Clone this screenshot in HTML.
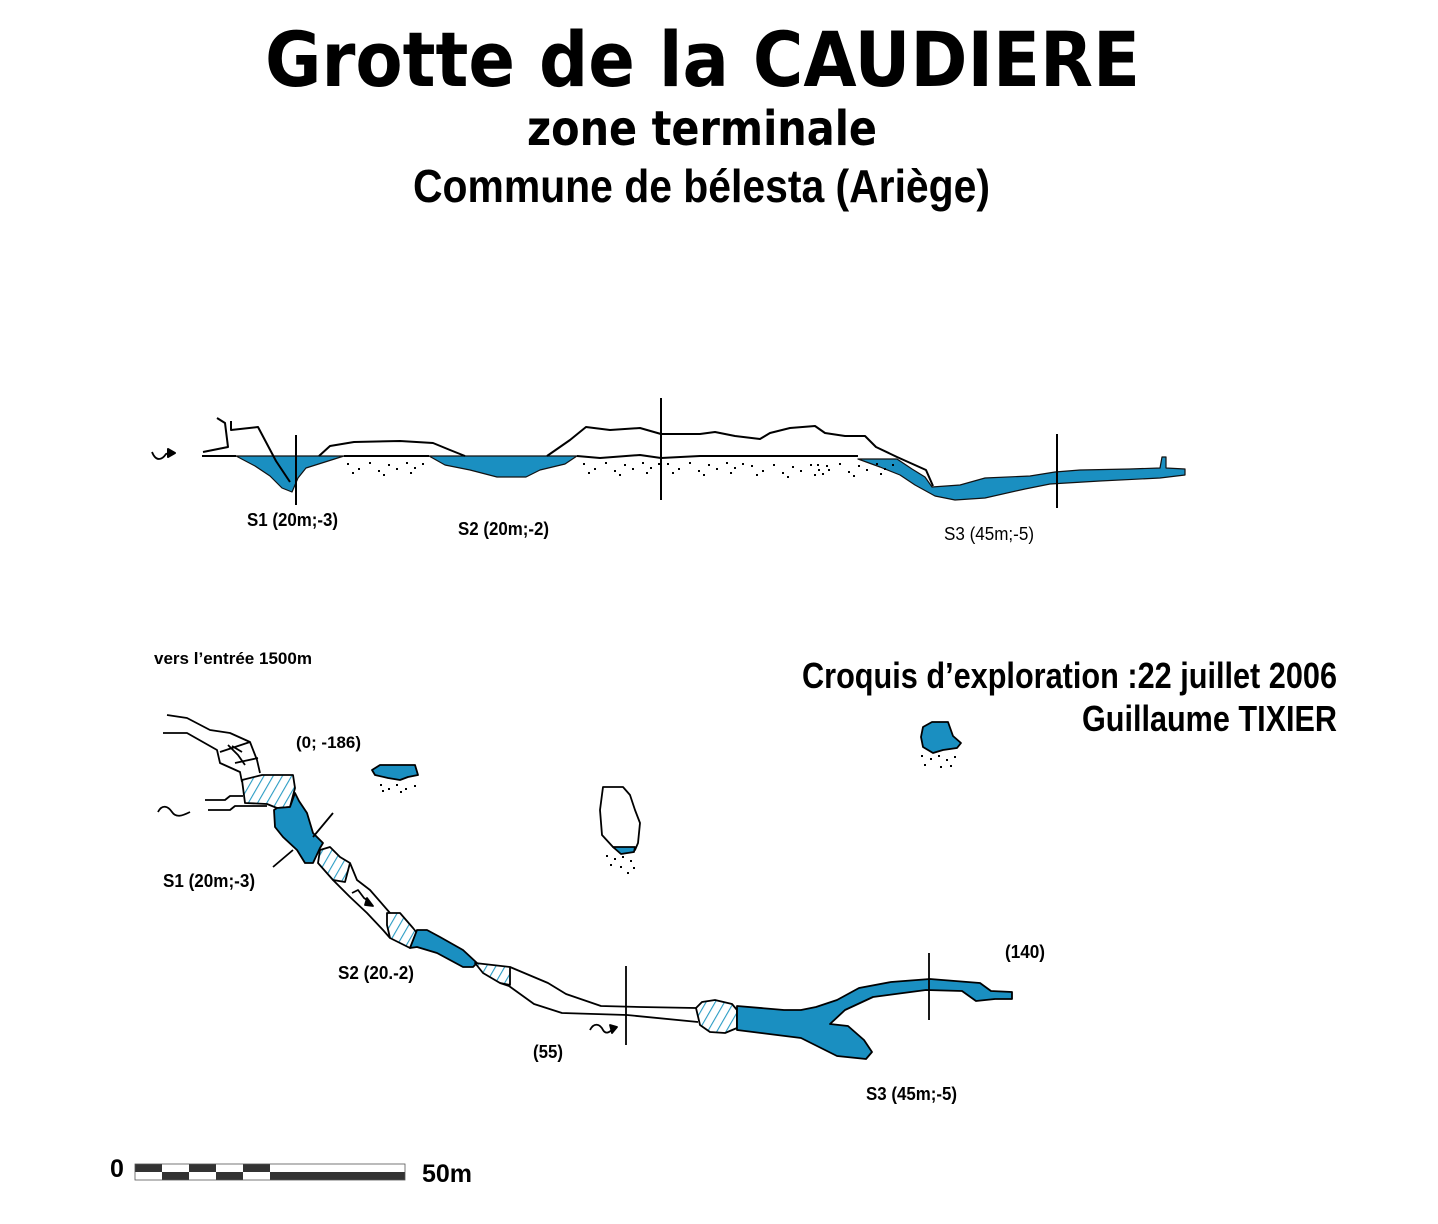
<!DOCTYPE html>
<html><head><meta charset="utf-8"><style>
html,body{margin:0;padding:0;background:#fff;}
svg{display:block;}
.n{font-family:"Liberation Sans Narrow","Liberation Sans",sans-serif;font-weight:bold;fill:#000;}
</style></head><body>
<svg width="1438" height="1224" viewBox="0 0 1438 1224" xmlns="http://www.w3.org/2000/svg">
<defs>
<pattern id="h" width="8" height="8" patternUnits="userSpaceOnUse" patternTransform="rotate(30)">
<rect width="8" height="8" fill="#fff"/><line x1="0" y1="0" x2="0" y2="8" stroke="#2a9cc4" stroke-width="2.2"/>
</pattern>
</defs>
<rect width="1438" height="1224" fill="#fff"/>
<text x="265" y="86" textLength="875" lengthAdjust="spacingAndGlyphs" font-family="'DejaVu Sans',sans-serif" font-weight="bold" font-size="76">Grotte de la CAUDIERE</text>
<text x="527" y="145" textLength="350" lengthAdjust="spacingAndGlyphs" font-family="'DejaVu Sans',sans-serif" font-weight="bold" font-size="48">zone terminale</text>
<text class="n" x="413" y="202" textLength="577" lengthAdjust="spacingAndGlyphs" font-size="46">Commune de bélesta (Ariège)</text>

<g fill="none" stroke="#000" stroke-width="2" stroke-linejoin="round">
<path fill="#1a8fc1" stroke="#111" stroke-width="1.2" d="M236,456 L344,456 L325,462 L306,468 L298,478 L292,492 L282,488 L270,476 L255,466 Z"/>
<path fill="#1a8fc1" stroke="#111" stroke-width="1.2" d="M429,456 L577,456 L565,464 L540,470 L526,477 L497,477 L470,470 L445,465 Z"/>
<path fill="#1a8fc1" stroke="#111" stroke-width="1.2" d="M858,459 L897,459 L912,469 L925,477 L932,487 L960,485 L985,478 L1030,476 L1055,472 L1080,470 L1130,469 L1160,468 L1162,457 L1166,457 L1166,468 L1185,469 L1185,475 L1160,478 L1100,481 L1050,484 L1025,489 L985,498 L955,500 L935,496 L915,485 L900,475 L880,467 Z"/>
<path d="M202,456 L236,456"/>
<path d="M217,418 L225,423 L228,447 L203,452"/>
<path d="M231,421 L231,430 L258,427 L267,444 L276,461 L290,482"/>
<path d="M319,456 L330,446 L354,442 L400,441 L433,443 L450,450 L465,456"/>
<path d="M344,456 L429,456"/>
<path d="M547,456 L570,440 L586,427 L610,430 L640,428 L661,434 L700,434 L715,432 L735,436 L760,439 L770,433 L790,428 L815,426 L825,433 L845,436 L865,436 L876,447 L897,457 L926,470 L933,486"/>
<path d="M577,456 L600,458 L640,455 L661,458 L700,456 L858,456"/>
<path d="M296,435 L296,505 M661,398 L661,500 M1057,434 L1057,508"/>
<path d="M152,452 C156,462 162,460 166,454 L172,452" stroke-width="1.8"/>
<path d="M168,449 L175,453 L168,457 Z" fill="#000"/>
</g>
<g fill="#000">
<g id="sd"><rect x="347" y="463" width="2" height="2"/><rect x="358" y="468" width="2" height="2"/><rect x="369" y="462" width="2" height="2"/><rect x="378" y="470" width="2" height="2"/><rect x="388" y="464" width="2" height="2"/><rect x="396" y="468" width="2" height="2"/><rect x="406" y="462" width="2" height="2"/><rect x="414" y="467" width="2" height="2"/><rect x="422" y="463" width="2" height="2"/><rect x="352" y="472" width="2" height="2"/><rect x="383" y="474" width="2" height="2"/><rect x="410" y="472" width="2" height="2"/></g>
<use href="#sd" x="236" y="0"/><use href="#sd" x="320" y="0"/><use href="#sd" x="404" y="2"/><use href="#sd" x="470" y="1"/>
</g>
<text class="n" x="247" y="526" font-size="18" textLength="91" lengthAdjust="spacingAndGlyphs">S1 (20m;-3)</text>
<text class="n" x="458" y="535" font-size="18" textLength="91" lengthAdjust="spacingAndGlyphs">S2 (20m;-2)</text>
<text x="944" y="540" font-family="'Liberation Sans Narrow','Liberation Sans',sans-serif" font-size="18" textLength="90" lengthAdjust="spacingAndGlyphs">S3 (45m;-5)</text>

<text class="n" x="154" y="664" font-size="17" textLength="158" lengthAdjust="spacingAndGlyphs">vers l’entrée 1500m</text>
<text class="n" x="802" y="688" font-size="36" textLength="535" lengthAdjust="spacingAndGlyphs">Croquis d’exploration :22 juillet 2006</text>
<text class="n" x="1082" y="731" font-size="36" textLength="255" lengthAdjust="spacingAndGlyphs">Guillaume TIXIER</text>

<g fill="none" stroke="#000" stroke-width="1.8" stroke-linejoin="round">
<path d="M167,715 L187,718 L210,730 L230,733 L250,742 L257,760 L260,773"/>
<path d="M163,733 L187,733 L217,750 L220,763 L240,772 L242,782"/>
<path d="M220,752 L250,742 M228,745 L238,755 L245,765 M232,746 L242,752 M235,763 L258,758"/>
<path d="M205,800 L225,800 L230,796 L243,796"/>
<path d="M208,810 L230,810 L235,806 L267,806"/>
<path d="M158,812 C162,804 168,806 172,812 C176,818 182,816 190,812"/>
<path fill="url(#h)" d="M242,780 L262,775 L293,775 L295,788 L290,807 L277,808 L267,804 L245,803 Z"/>
<path fill="#1a8fc1" d="M277,808 L290,807 L295,793 L299,801 L307,813 L313,833 L323,843 L320,848 L313,863 L305,863 L297,850 L283,837 L275,827 L274,810 Z"/>
<path d="M313,837 L333,813 M293,850 L273,867"/>
<path fill="url(#h)" d="M320,850 L330,847 L340,857 L350,863 L345,882 L333,880 L318,863 Z"/>
<path d="M350,863 L357,880 L370,890 L390,913 L413,930"/>
<path d="M333,880 L350,897 L367,913 L383,930 L390,938"/>
<path d="M352,893 L358,890 L364,898 L370,902"/>
<path d="M367,898 L373,906 L365,905 Z" fill="#000"/>
<path fill="url(#h)" d="M387,913 L400,913 L413,928 L417,933 L410,948 L390,938 L387,925 Z"/>
<path fill="#1a8fc1" d="M417,930 L427,930 L440,937 L463,950 L477,963 L473,967 L463,967 L450,960 L437,953 L417,947 L410,948 Z"/>
<path fill="url(#h)" d="M475,963 L510,967 L510,985 L500,983 L483,973 Z"/>
<path d="M510,967 L548,983 L566,994 L601,1006 L640,1007 L696,1008"/>
<path d="M500,983 L509,986 L534,1004 L562,1013 L627,1015 L698,1022"/>
<path d="M626,966 L626,1045"/>
<path d="M590,1030 C594,1022 600,1024 603,1030 C606,1035 610,1032 614,1028"/>
<path d="M610,1025 L617,1027 L612,1033 Z" fill="#000"/>
<path fill="url(#h)" d="M696,1008 L702,1002 L715,1000 L732,1004 L737,1010 L737,1028 L725,1033 L710,1032 L700,1025 Z"/>
<path fill="#1a8fc1" d="M737,1006 L784,1010 L801,1010 L816,1007 L837,1000 L859,988 L891,982 L930,979 L980,983 L991,991 L1012,992 L1012,999 L995,999 L976,1001 L962,991 L926,990 L873,997 L845,1010 L830,1024 L848,1026 L864,1040 L872,1052 L866,1059 L837,1056 L801,1038 L737,1030 Z"/>
<path d="M929,953 L929,1020"/>
<path fill="#1a8fc1" d="M372,770 L380,765 L415,765 L418,775 L408,777 L400,780 L388,778 L375,775 Z"/>
<path fill="#fff" d="M603,787 L623,787 L630,795 L635,810 L640,823 L638,843 L635,850 L620,852 L613,847 L602,835 L600,810 Z"/>
<path fill="#1a8fc1" d="M613,847 L635,847 L634,852 L621,854 Z"/>
<path fill="#1a8fc1" d="M923,727 L932,722 L948,722 L953,736 L961,743 L957,748 L943,750 L933,753 L923,747 L921,737 Z"/>
</g>
<g fill="#000">
<rect x="380" y="784" width="2" height="2"/><rect x="388" y="788" width="2" height="2"/><rect x="396" y="784" width="2" height="2"/><rect x="405" y="788" width="2" height="2"/><rect x="414" y="785" width="2" height="2"/><rect x="382" y="790" width="2" height="2"/><rect x="400" y="791" width="2" height="2"/>
<rect x="606" y="855" width="2" height="2"/><rect x="614" y="858" width="2" height="2"/><rect x="622" y="856" width="2" height="2"/><rect x="630" y="860" width="2" height="2"/><rect x="610" y="864" width="2" height="2"/><rect x="620" y="866" width="2" height="2"/><rect x="633" y="867" width="2" height="2"/><rect x="627" y="872" width="2" height="2"/>
<rect x="921" y="755" width="2" height="2"/><rect x="930" y="758" width="2" height="2"/><rect x="938" y="755" width="2" height="2"/><rect x="946" y="759" width="2" height="2"/><rect x="954" y="756" width="2" height="2"/><rect x="924" y="764" width="2" height="2"/><rect x="940" y="766" width="2" height="2"/><rect x="950" y="765" width="2" height="2"/>
</g>
<text class="n" x="296" y="748" font-size="17" textLength="65" lengthAdjust="spacingAndGlyphs">(0; -186)</text>
<text class="n" x="163" y="887" font-size="18" textLength="92" lengthAdjust="spacingAndGlyphs">S1 (20m;-3)</text>
<text class="n" x="338" y="979" font-size="18" textLength="76" lengthAdjust="spacingAndGlyphs">S2 (20.-2)</text>
<text class="n" x="533" y="1058" font-size="18" textLength="30" lengthAdjust="spacingAndGlyphs">(55)</text>
<text class="n" x="1005" y="958" font-size="18" textLength="40" lengthAdjust="spacingAndGlyphs">(140)</text>
<text class="n" x="866" y="1100" font-size="18" textLength="91" lengthAdjust="spacingAndGlyphs">S3 (45m;-5)</text>

<text class="n" x="110" y="1177" font-size="25">0</text>
<text class="n" x="422" y="1182" font-size="25">50m</text>
<g fill="#333">
<rect x="135" y="1164" width="27" height="8"/><rect x="189" y="1164" width="27" height="8"/><rect x="243" y="1164" width="27" height="8"/>
<rect x="162" y="1172" width="27" height="8"/><rect x="216" y="1172" width="27" height="8"/><rect x="270" y="1172" width="135" height="8"/>
</g>
<rect x="135" y="1164" width="270" height="16" fill="none" stroke="#555" stroke-width="0.8"/>
</svg>
</body></html>
